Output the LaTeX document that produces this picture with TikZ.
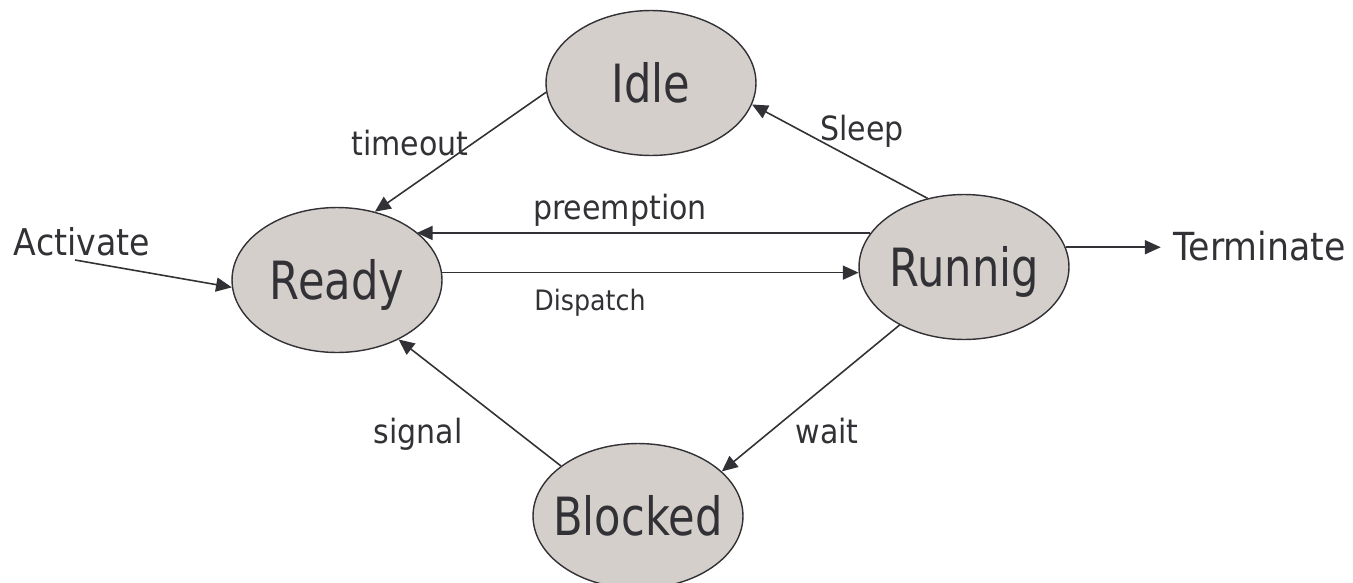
\documentclass[tikz,border=0pt]{standalone}
\usepackage{fontspec}
\setmainfont[FakeStretch=0.9]{DejaVu Sans}
\newfontfamily\statefont[FakeStretch=0.82]{DejaVu Sans}
\usetikzlibrary{shapes.geometric,arrows.meta}
\definecolor{stategray}{RGB}{213,207,204}
\definecolor{ink}{RGB}{50,50,54}

\begin{document}
\begin{tikzpicture}[x=0.02cm,y=-0.02cm,
		state/.style={ellipse,draw=ink,line width=0.8pt,fill=stategray,minimum width=4.2cm,minimum height=2.9cm,inner sep=0pt,text=ink,font=\statefont\fontsize{30}{36}\selectfont,text height=22pt,text depth=0pt},
		trans/.style={draw=ink,line width=0.9pt,-{Triangle[length=9pt,width=8pt]}},
		lbl/.style={text=ink,inner sep=0pt,anchor=base,font=\fontsize{19}{23}\selectfont}]
			\useasboundingbox (0,0) rectangle (1353,582);
			\clip (0,0) rectangle (1353,582);
			\node[state] (Idle) at (651,83) {\makebox[0pt]{Idle}};
			\node[state] (Ready) at (337,280) {\makebox[0pt]{Ready}};
			\node[state] (Running) at (964,267) {\makebox[0pt]{Runnig}};
			\node[state] (Blocked) at (638,516) {\makebox[0pt]{Blocked}};
			\node[lbl] (timeoutlbl) at (410,155) {timeout};
			\node[lbl] (sleeplbl) at (862,140) {Sleep};
			\node[lbl] (preemptlbl) at (620,219) {preemption};
			\node[lbl,font=\fontsize{16}{19}\selectfont] (dispatchlbl) at (590,310) {Dispatch};
			\node[lbl] (signallbl) at (418,443) {signal};
			\node[lbl] (waitlbl) at (827,443) {wait};
			\node[lbl,font=\fontsize{21}{25}\selectfont] (activatelbl) at (82,255) {Activate};
			\node[lbl,anchor=base west,font=\fontsize{22}{26}\selectfont] (Terminate) at (1173,260) {Terminate};
			\coordinate (act) at (75,260);
			\draw[trans] (Idle.185) -- (Ready.61);
			\draw[trans] (Running.118) -- (Idle.348);
			\draw[trans] (Running.160) -- (Running.160 -| Ready.31);
			\draw[trans] (Ready.4) -- (Ready.4 -| Running.183);
			\draw[trans] (Running.222) -- (Blocked.28);
			\draw[trans] (Blocked.147) -- (Ready.316);
			\draw[trans] (act) -- (Ready.184);
			\draw[trans,shorten >=7pt] (Running.11) -- (Running.11 -| Terminate.west);
		\end{tikzpicture}
\end{document}
